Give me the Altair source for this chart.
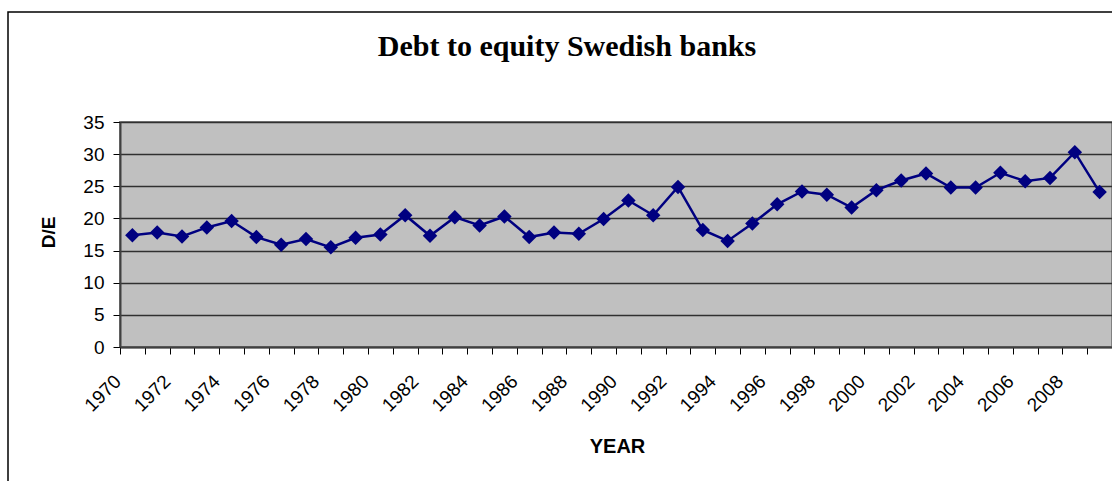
import altair as alt
import pandas as pd

years = list(range(1970, 2010))
de = [17.4, 17.8, 17.2, 18.6, 19.6, 17.1, 15.9, 16.8, 15.5, 17.0,
      17.5, 20.5, 17.3, 20.2, 18.9, 20.3, 17.1, 17.8, 17.6, 19.9,
      22.8, 20.5, 24.9, 18.2, 16.5, 19.2, 22.2, 24.2, 23.7, 21.7,
      24.4, 25.9, 27.0, 24.8, 24.8, 27.1, 25.8, 26.3, 30.3, 24.1]
y_ticks = [0, 5, 10, 15, 20, 25, 30, 35]

df = pd.DataFrame({"year": years, "de": de})

x_enc = alt.X(
    "year:O",
    bandPosition=0.5,
    scale=alt.Scale(type="band", paddingInner=0, paddingOuter=0),
    axis=alt.Axis(
        title="YEAR",
        titleFont="Liberation Sans", titleFontSize=20, titleFontWeight="bold",
        titleColor="black",
        titleX=497, titleY=99, titleBaseline="middle", titleAlign="center",
        tickBand="extent", tickSize=7, tickColor="black", tickWidth=1,
        domainColor="#404040", domainWidth=2,
        labelExpr="datum.value % 2 == 0 ? datum.label : ''",
        labelAngle=-45, labelAlign="right", labelBaseline="middle",
        labelFont="Liberation Sans", labelFontSize=19, labelColor="black",
        labelPadding=24, labelOffset=-15, labelOverlap=False, grid=False,
    ),
)
y_enc = alt.Y(
    "de:Q",
    scale=alt.Scale(domain=[0, 35], nice=False, zero=True),
    axis=alt.Axis(
        title="D/E", values=y_ticks,
        titleFont="Liberation Sans", titleFontSize=19, titleFontWeight="bold",
        titleColor="black",
        titleX=-72, titleY=110, titleAngle=-90, titleAlign="center", titleBaseline="middle",
        tickSize=7, tickColor="black", tickWidth=1,
        domainColor="#404040", domainWidth=2,
        labelFont="Liberation Sans", labelFontSize=19, labelColor="black",
        labelPadding=9,
        grid=True, gridColor="#303030", gridWidth=1.5,
    ),
)

line = alt.Chart(df).mark_line(color="#000080", strokeWidth=2.5).encode(x=x_enc, y=y_enc)
pts = alt.Chart(df).mark_point(shape="diamond", filled=True, size=210, color="#000080", opacity=1).encode(x=x_enc, y=y_enc)

frame = alt.Chart(alt.Data(values=[{}])).mark_rect(
    fill=None, fillOpacity=0, stroke="black", strokeWidth=1.5
).encode(x=alt.value(-112), x2=alt.value(1100), y=alt.value(-110), y2=alt.value(500))

chart = alt.layer(line, pts, frame).properties(
    width=992, height=225,
    autosize=alt.AutoSizeParams(type="none"),
    padding={"left": 120, "top": 122, "right": 0, "bottom": 134},
    background="white",
    title=alt.TitleParams(
        "Debt to equity Swedish banks",
        font="Liberation Serif", fontSize=30, fontWeight="bold", color="black",
        anchor="middle", baseline="alphabetic", dx=-49, offset=0, dy=75,
    ),
).configure_view(fill="#C0C0C0", stroke="#808080", strokeWidth=2)

chart.save("out.html", embed_options={"renderer": "svg", "actions": False})
